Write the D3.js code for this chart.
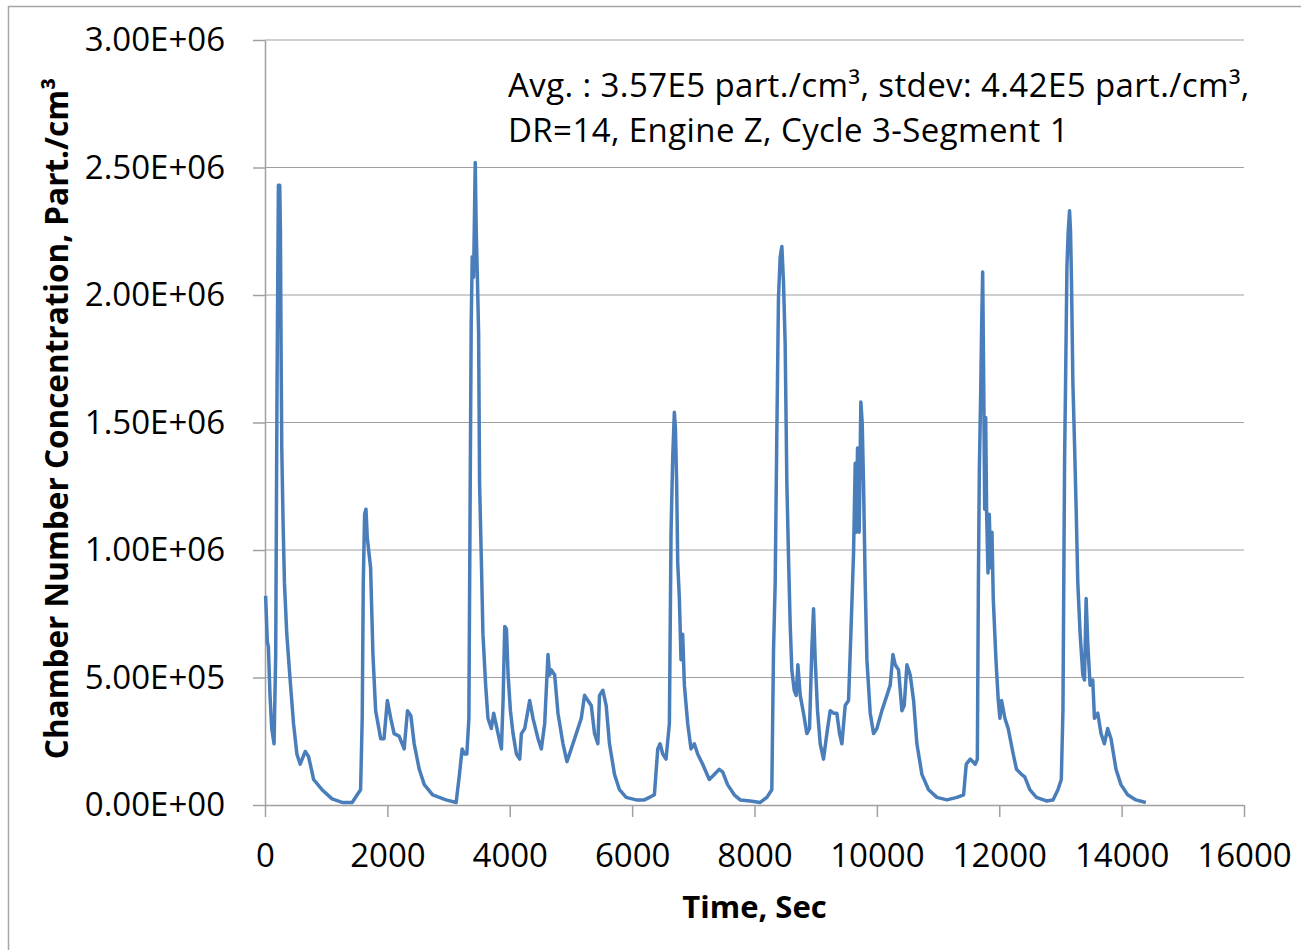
<!DOCTYPE html>
<html>
<head>
<meta charset="utf-8">
<script src="https://cdn.jsdelivr.net/npm/d3@7"></script>
<style>
  body { margin: 0; background: #fff; }
  svg text { font-family: "Open Sans", "Noto Sans", sans-serif; fill: #000; }
  .axis path, .axis line { stroke: #a0a0a0; stroke-width: 1.5; }
  .grid line { stroke: #a0a0a0; stroke-width: 1.2; }
</style>
</head>
<body>
<div id="chart-area"></div>
<script>
// Chamber number concentration trace (part./cm3 in millions)
let timeSec = [
  10, 38, 55, 82, 110, 148, 175, 197, 219, 241, 252, 263, 274, 296, 318, 356, 411, 466, 521, 575,
  658, 712, 795, 932, 1096, 1260, 1425, 1507, 1562, 1589, 1606, 1628, 1650, 1671, 1726, 1764, 1808, 1891, 1945, 2000,
  2055, 2110, 2192, 2274, 2329, 2384, 2438, 2521, 2603, 2740, 2959, 3124, 3178, 3222, 3260, 3299, 3332, 3354, 3370, 3387,
  3409, 3436, 3452, 3469, 3491, 3507, 3535, 3562, 3606, 3644, 3699, 3737, 3809, 3864, 3891, 3918, 3946, 3973, 4011, 4054,
  4109, 4163, 4190, 4245, 4326, 4380, 4462, 4516, 4571, 4625, 4652, 4679, 4734, 4788, 4870, 4935, 5005, 5087, 5169, 5223,
  5277, 5332, 5386, 5440, 5467, 5522, 5576, 5630, 5712, 5793, 5902, 6065, 6201, 6283, 6364, 6419, 6457, 6500, 6554, 6609,
  6636, 6663, 6690, 6707, 6728, 6745, 6772, 6799, 6826, 6854, 6908, 6962, 7017, 7071, 7153, 7261, 7343, 7424, 7479, 7560,
  7669, 7766, 7929, 8093, 8202, 8283, 8311, 8338, 8365, 8392, 8420, 8447, 8474, 8501, 8529, 8556, 8583, 8610, 8649, 8681,
  8709, 8747, 8801, 8856, 8899, 8937, 8965, 8992, 9030, 9074, 9128, 9183, 9237, 9292, 9346, 9390, 9428, 9482, 9537, 9575,
  9619, 9646, 9662, 9684, 9711, 9738, 9760, 9782, 9809, 9837, 9891, 9946, 10000, 10082, 10164, 10218, 10262, 10300, 10354, 10409,
  10447, 10491, 10545, 10600, 10654, 10736, 10845, 10981, 11145, 11308, 11417, 11461, 11526, 11608, 11642, 11659, 11675, 11697, 11713, 11729,
  11746, 11762, 11778, 11794, 11816, 11837, 11859, 11881, 11902, 11946, 11984, 12011, 12038, 12092, 12146, 12228, 12282, 12363, 12417, 12499,
  12607, 12770, 12878, 12959, 13014, 13041, 13068, 13084, 13106, 13127, 13149, 13165, 13181, 13203, 13230, 13257, 13284, 13322, 13366, 13393,
  13420, 13447, 13485, 13528, 13556, 13610, 13664, 13718, 13772, 13827, 13908, 13989, 14098, 14233, 14396
];
let concMillion = [
  0.82, 0.64, 0.62, 0.43, 0.30, 0.24, 0.59, 1.66, 2.43, 2.43, 2.25, 1.78, 1.40, 1.10, 0.87, 0.67, 0.49, 0.32, 0.20, 0.16,
  0.21, 0.19, 0.10, 0.06, 0.024, 0.01, 0.01, 0.04, 0.06, 0.34, 0.87, 1.14, 1.16, 1.05, 0.93, 0.59, 0.37, 0.26, 0.26, 0.41,
  0.34, 0.28, 0.27, 0.22, 0.37, 0.35, 0.24, 0.14, 0.08, 0.04, 0.02, 0.01, 0.12, 0.22, 0.20, 0.20, 0.34, 1.26, 1.89, 2.15,
  2.07, 2.52, 2.25, 2.09, 1.85, 1.26, 0.97, 0.67, 0.47, 0.34, 0.30, 0.36, 0.28, 0.22, 0.41, 0.70, 0.69, 0.51, 0.37, 0.28,
  0.20, 0.18, 0.28, 0.30, 0.41, 0.34, 0.26, 0.22, 0.32, 0.59, 0.51, 0.53, 0.51, 0.36, 0.24, 0.17, 0.22, 0.28, 0.34, 0.43,
  0.41, 0.39, 0.28, 0.24, 0.43, 0.45, 0.39, 0.24, 0.12, 0.06, 0.03, 0.02, 0.02, 0.03, 0.04, 0.22, 0.24, 0.20, 0.18, 0.32,
  1.07, 1.36, 1.54, 1.48, 1.26, 0.95, 0.81, 0.57, 0.67, 0.47, 0.32, 0.22, 0.24, 0.20, 0.16, 0.10, 0.12, 0.14, 0.13, 0.08,
  0.04, 0.02, 0.016, 0.01, 0.03, 0.06, 0.61, 0.87, 1.46, 1.99, 2.15, 2.19, 2.05, 1.81, 1.26, 0.97, 0.71, 0.53, 0.45, 0.43,
  0.55, 0.43, 0.36, 0.28, 0.30, 0.61, 0.77, 0.57, 0.37, 0.24, 0.18, 0.28, 0.37, 0.36, 0.36, 0.28, 0.24, 0.39, 0.41, 0.67,
  0.99, 1.34, 1.07, 1.40, 1.07, 1.58, 1.50, 1.26, 0.87, 0.57, 0.36, 0.28, 0.30, 0.37, 0.43, 0.47, 0.59, 0.55, 0.53, 0.37,
  0.39, 0.55, 0.51, 0.41, 0.24, 0.12, 0.06, 0.03, 0.02, 0.03, 0.04, 0.16, 0.18, 0.16, 0.18, 0.87, 1.32, 1.62, 1.89, 2.09,
  1.66, 1.16, 1.52, 1.14, 0.91, 1.14, 0.93, 1.07, 0.81, 0.57, 0.41, 0.34, 0.41, 0.34, 0.30, 0.20, 0.14, 0.12, 0.11, 0.06,
  0.03, 0.016, 0.02, 0.06, 0.10, 0.37, 1.36, 1.66, 2.11, 2.25, 2.33, 2.25, 2.05, 1.66, 1.42, 1.16, 0.87, 0.67, 0.51, 0.49,
  0.81, 0.63, 0.47, 0.49, 0.34, 0.36, 0.28, 0.24, 0.30, 0.26, 0.14, 0.08, 0.04, 0.02, 0.01
];

let yTickValues = [0, 500000, 1000000, 1500000, 2000000, 2500000, 3000000];
let yTickLabels = ["0.00E+00", "5.00E+05", "1.00E+06", "1.50E+06", "2.00E+06", "2.50E+06", "3.00E+06"];
let xTickValues = [0, 2000, 4000, 6000, 8000, 10000, 12000, 14000, 16000];
let noteLines = [
  "Avg. : 3.57E5 part./cm³, stdev: 4.42E5 part./cm³,",
  "DR=14, Engine Z, Cycle 3-Segment 1"
];

let data = timeSec.map((t, i) => ({t: t, v: concMillion[i] * 1e6}));

// Chart area
let margin = {top: 40, right: 57, bottom: 145, left: 265},
    width = 1301 - margin.left - margin.right,
    height = 950 - margin.top - margin.bottom;

let root = d3.select("#chart-area").append("svg")
    .attr("width", 1301)
    .attr("height", 950);

// outer frame of the chart object
root.append("rect")
    .attr("x", 8.5).attr("y", 6.5)
    .attr("width", 1400).attr("height", 1000)
    .attr("fill", "none")
    .attr("stroke", "#a6a6a6")
    .attr("stroke-width", 1.5);

let svg = root.append("g")
    .attr("transform", "translate(" + margin.left + "," + margin.top + ")");

// Scales and axes
let x = d3.scaleLinear().domain([0, 16000]).range([0, width]);
let y = d3.scaleLinear().domain([0, 3000000]).range([height, 0]);

svg.append("g")
    .attr("class", "grid")
    .selectAll("line")
    .data(yTickValues.slice(1))
    .enter().append("line")
    .attr("x1", 0).attr("x2", width)
    .attr("y1", d => y(d)).attr("y2", d => y(d));

let yAxis = d3.axisLeft(y)
    .tickValues(yTickValues)
    .tickFormat((d, i) => yTickLabels[i])
    .tickSizeInner(12)
    .tickSizeOuter(0)
    .tickPadding(28);

let xAxis = d3.axisBottom(x)
    .tickValues(xTickValues)
    .tickFormat(d3.format("d"))
    .tickSizeInner(12)
    .tickSizeOuter(0)
    .tickPadding(27);

svg.append("g")
    .attr("class", "y-axis axis")
    .call(yAxis)
    .selectAll("text")
    .style("font-size", "33px");

svg.append("g")
    .attr("class", "x-axis axis")
    .attr("transform", "translate(0," + height + ")")
    .call(xAxis)
    .selectAll("text")
    .style("font-size", "33px");

// Line
let line = d3.line()
    .x(d => x(d.t))
    .y(d => y(d.v));

svg.append("path")
    .datum(data)
    .attr("fill", "none")
    .attr("stroke", "#4a7ebb")
    .attr("stroke-width", 3.5)
    .attr("stroke-linejoin", "round")
    .attr("d", line);

// Note text
svg.append("g")
    .selectAll("text")
    .data(noteLines)
    .enter().append("text")
    .attr("x", 243)
    .attr("y", (d, i) => 57 + i * 45)
    .style("font-size", "33px")
    .style("letter-spacing", "0.4px")
    .text(d => d);

// Axis titles
svg.append("text")
    .attr("transform", "translate(-197," + (height / 2 - 4) + ") rotate(-90)")
    .style("text-anchor", "middle")
    .style("font-size", "31.5px")
    .style("font-weight", "bold")
    .text("Chamber Number Concentration, Part./cm³");

svg.append("text")
    .attr("x", x(8000))
    .attr("y", height + 113)
    .style("text-anchor", "middle")
    .style("font-size", "31px")
    .style("font-weight", "bold")
    .text("Time, Sec");
</script>
</body>
</html>
